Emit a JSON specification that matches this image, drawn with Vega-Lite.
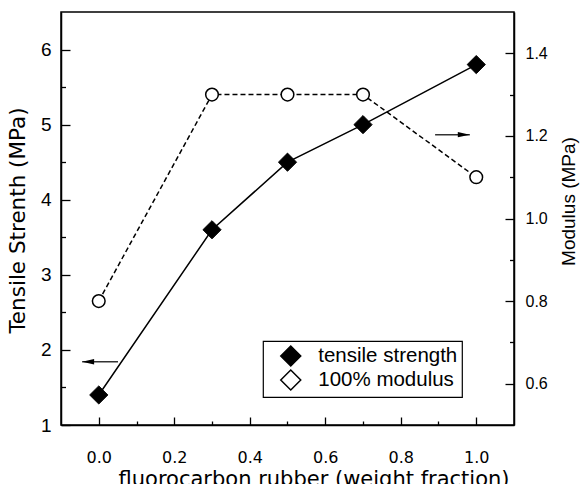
{
  "$schema": "https://vega.github.io/schema/vega-lite/v6.json",
  "width": 453,
  "height": 413,
  "autosize": {"type": "none"},
  "padding": {"left": 61, "top": 12, "right": 68, "bottom": 59},
  "background": "white",
  "datasets": {
    "main": [
      {"x": 0.0, "series": "tensile strength", "value": 1.4},
      {"x": 0.3, "series": "tensile strength", "value": 3.6},
      {"x": 0.5, "series": "tensile strength", "value": 4.5},
      {"x": 0.7, "series": "tensile strength", "value": 5.0},
      {"x": 1.0, "series": "tensile strength", "value": 5.8},
      {"x": 0.0, "series": "100% modulus", "value": 0.8},
      {"x": 0.3, "series": "100% modulus", "value": 1.3},
      {"x": 0.5, "series": "100% modulus", "value": 1.3},
      {"x": 0.7, "series": "100% modulus", "value": 1.3},
      {"x": 1.0, "series": "100% modulus", "value": 1.1}
    ],
    "arrows": [
      {"side": "left", "part": "shaft", "x": 0.051, "x2": -0.044, "value": 1.843},
      {"side": "left", "part": "head", "x": -0.044, "value": 1.843},
      {"side": "right", "part": "shaft", "x": 0.891, "x2": 0.983, "value": 1.203},
      {"side": "right", "part": "head", "x": 0.983, "value": 1.203}
    ]
  },
  "config": {
    "view": {"stroke": "black", "strokeWidth": 1.5},
    "axis": {
      "domainColor": "black",
      "domainWidth": 1.5,
      "ticks": true,
      "tickColor": "black",
      "tickOpacity": 1,
      "tickWidth": 1.3,
      "labelColor": "black",
      "titleColor": "black",
      "grid": false,
      "titleFontWeight": "normal"
    },
    "legend": {"strokeWidth": 1.2}
  },
  "layer": [
    {
      "encoding": {
        "x": {
          "field": "x",
          "type": "quantitative",
          "scale": {"domain": [-0.1, 1.1], "nice": false, "zero": false},
          "axis": {
            "orient": "bottom",
            "values": [0, 0.1, 0.2, 0.3, 0.4, 0.5, 0.6, 0.7, 0.8, 0.9, 1.0],
            "labelExpr": "round(datum.value * 10) % 2 === 0 ? format(datum.value, '.1f') : ''",
            "tickSize": {"condition": {"test": "round(datum.value * 10) % 2 === 0", "value": -8}, "value": -4},
            "labelFont": "DejaVu Sans",
            "labelFontSize": 16,
            "labelBaseline": "alphabetic",
            "labelPadding": 45,
            "title": "fluorocarbon rubber (weight fraction)",
            "titleFont": "DejaVu Sans",
            "titleFontSize": 21,
            "titleX": 252.5,
            "titleY": 60,
            "titleBaseline": "alphabetic",
            "titleAlign": "center"
          }
        },
        "y": {
          "field": "value",
          "type": "quantitative",
          "scale": {"domain": [1, 6.5], "nice": false, "zero": false},
          "axis": {
            "orient": "left",
            "values": [1, 1.5, 2, 2.5, 3, 3.5, 4, 4.5, 5, 5.5, 6],
            "labelExpr": "datum.value % 1 === 0 ? format(datum.value, 'd') : ''",
            "tickSize": {"condition": {"test": "datum.value % 1 === 0", "value": -9}, "value": -4.5},
            "labelFont": "Liberation Sans",
            "labelFontSize": 19,
            "labelPadding": 19,
            "title": "Tensile Strenth (MPa)",
            "titleFont": "DejaVu Sans",
            "titleFontSize": 21.5,
            "titleAngle": 270,
            "titleX": -42.5,
            "titleY": 208,
            "titleBaseline": "middle",
            "titleAlign": "center"
          }
        }
      },
      "layer": [
        {
          "data": {"name": "main"},
          "transform": [{"filter": "datum.series === 'tensile strength'"}],
          "mark": {"type": "line", "color": "black", "strokeWidth": 1.5}
        },
        {
          "data": {"name": "main"},
          "transform": [{"filter": "datum.series === 'tensile strength'"}],
          "mark": {"type": "point", "shape": "diamond", "filled": true, "size": 330, "stroke": "black", "strokeWidth": 1, "opacity": 1},
          "encoding": {
            "fill": {
              "field": "series",
              "type": "nominal",
              "scale": {"domain": ["tensile strength", "100% modulus"], "range": ["black", "white"]},
              "legend": {
                "orient": "none",
                "legendX": 202,
                "legendY": 329,
                "title": null,
                "padding": 4,
                "strokeColor": "black",
                "fillColor": "white",
                "labelFont": "Liberation Sans",
                "labelFontSize": 20.5,
                "labelColor": "black",
                "labelOffset": 16.5,
                "symbolOffset": 12.75,
                "symbolSize": 400,
                "rowPadding": -5,
                "symbolStrokeWidth": 1.5,
                "symbolStrokeColor": "black",
                "labelLimit": 400,
                "encode": {
                  "symbols": {
                    "shape": {"value": {"expr": "datum.value === 'tensile strength' ? 'M-2.25,-0.04L-0.9,-0.04L-0.9,0.04L-2.25,0.04ZM0,-1L0.9,0L0,1L-0.9,0ZM0.9,-0.04L2.25,-0.04L2.25,0.04L0.9,0.04Z' : 'M-2.2,-0.02L-1.55,-0.02L-1.55,0.02L-2.2,0.02ZM-0.45,0A0.65,0.65 0 1,1 0.85,0A0.65,0.65 0 1,1 -0.45,0ZM1.45,-0.02L2.1,-0.02L2.1,0.02L1.45,0.02Z'"}},
                    "stroke": {"value": "black"},
                    "strokeWidth": {"value": 1.5}
                  }
                }
              }
            }
          }
        },
        {
          "data": {"name": "arrows"},
          "transform": [{"filter": "datum.side === 'left' && datum.part === 'shaft'"}],
          "mark": {"type": "rule", "color": "#333333", "strokeWidth": 1.5},
          "encoding": {"x2": {"field": "x2"}}
        },
        {
          "data": {"name": "arrows"},
          "transform": [{"filter": "datum.side === 'left' && datum.part === 'head'"}],
          "mark": {"type": "point", "shape": "M-1,0L1,-0.45L1,0.45Z", "size": 144, "filled": true, "color": "black", "opacity": 1, "xOffset": 6}
        }
      ]
    },
    {
      "encoding": {
        "x": {
          "field": "x",
          "type": "quantitative",
          "scale": {"domain": [-0.1, 1.1], "nice": false, "zero": false},
          "axis": {
            "orient": "bottom",
            "values": [0, 0.1, 0.2, 0.3, 0.4, 0.5, 0.6, 0.7, 0.8, 0.9, 1.0],
            "labelExpr": "round(datum.value * 10) % 2 === 0 ? format(datum.value, '.1f') : ''",
            "tickSize": {"condition": {"test": "round(datum.value * 10) % 2 === 0", "value": -8}, "value": -4},
            "labelFont": "DejaVu Sans",
            "labelFontSize": 16,
            "labelBaseline": "alphabetic",
            "labelPadding": 45,
            "title": "fluorocarbon rubber (weight fraction)",
            "titleFont": "DejaVu Sans",
            "titleFontSize": 21,
            "titleX": 252.5,
            "titleY": 60,
            "titleBaseline": "alphabetic",
            "titleAlign": "center"
          }
        },
        "y": {
          "field": "value",
          "type": "quantitative",
          "scale": {"domain": [0.5, 1.5], "nice": false, "zero": false},
          "axis": {
            "orient": "right",
            "values": [0.6, 0.7, 0.8, 0.9, 1.0, 1.1, 1.2, 1.3, 1.4],
            "labelExpr": "round(datum.value * 10) % 2 === 0 ? format(datum.value, '.1f') : ''",
            "tickSize": {"condition": {"test": "round(datum.value * 10) % 2 === 0", "value": -9}, "value": -4.5},
            "labelFont": "Liberation Sans",
            "labelFontSize": 16,
            "labelPadding": 20,
            "title": "Modulus (MPa)",
            "titleFont": "Liberation Sans",
            "titleFontSize": 19,
            "titleAngle": 270,
            "titleX": 54,
            "titleY": 189,
            "titleBaseline": "middle",
            "titleAlign": "center"
          }
        }
      },
      "layer": [
        {
          "data": {"name": "main"},
          "transform": [{"filter": "datum.series === '100% modulus'"}],
          "mark": {"type": "line", "color": "black", "strokeWidth": 1.5, "strokeDash": [5, 3]}
        },
        {
          "data": {"name": "main"},
          "transform": [{"filter": "datum.series === '100% modulus'"}],
          "mark": {"type": "point", "shape": "circle", "filled": true, "fill": "white", "size": 160, "stroke": "black", "strokeWidth": 1.5, "opacity": 1}
        },
        {
          "data": {"name": "arrows"},
          "transform": [{"filter": "datum.side === 'right' && datum.part === 'shaft'"}],
          "mark": {"type": "rule", "color": "#333333", "strokeWidth": 1.5},
          "encoding": {"x2": {"field": "x2"}}
        },
        {
          "data": {"name": "arrows"},
          "transform": [{"filter": "datum.side === 'right' && datum.part === 'head'"}],
          "mark": {"type": "point", "shape": "M1,0L-1,-0.45L-1,0.45Z", "size": 144, "filled": true, "color": "black", "opacity": 1, "xOffset": -6}
        }
      ]
    }
  ],
  "resolve": {"scale": {"y": "independent"}}
}
